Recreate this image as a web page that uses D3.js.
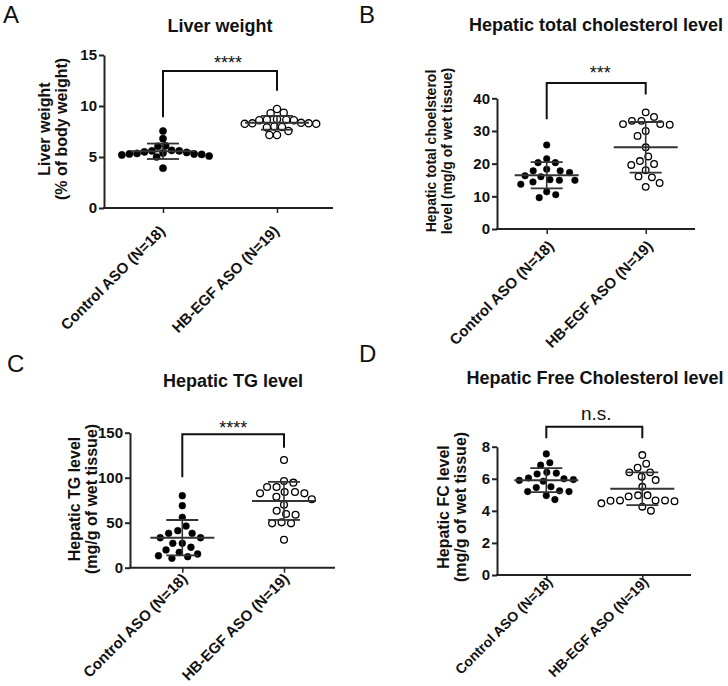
<!DOCTYPE html>
<html><head><meta charset="utf-8">
<script src="https://cdn.jsdelivr.net/npm/d3@7"></script>
<style>body{margin:0;background:#fff} svg{display:block}</style>
</head><body>
<svg id="c" width="728" height="686"></svg>
<script>
// ---- data ----
const groups = ["Control ASO (N=18)", "HB-EGF ASO (N=19)"];

const liverControl = [7.55, 6.8, 6.1, 6.05, 5.65, 5.6, 5.6, 5.5, 5.45, 5.4, 5.35, 5.3, 5.3, 5.25, 5.2, 5.1, 5.0, 3.9];
const liverHBEGF   = [9.7, 9.35, 9.3, 8.7, 8.65, 8.65, 8.6, 8.6, 8.35, 8.3, 8.3, 8.25, 8.25, 8.0, 7.95, 7.9, 7.55, 7.15, 7.15];

const tcControl = [25.7, 21.5, 20.3, 20.3, 18.3, 17.8, 17.8, 17.3, 16.3, 16.0, 15.1, 14.9, 14.9, 14.4, 13.7, 11.4, 10.5, 9.6];
const tcHBEGF   = [35.7, 34.3, 33.1, 32.1, 31.9, 32.1, 33.1, 30.0, 28.5, 25.0, 22.2, 20.8, 19.6, 19.9, 18.0, 16.1, 15.8, 14.1, 12.9];

const tgControl = [80, 68.9, 56, 46.3, 41.1, 38.2, 38.2, 33.3, 33.3, 27.1, 27.1, 22.7, 19.7, 17.1, 15.2, 13.3, 12.2, 10.4];
const tgHBEGF   = [119.7, 96.3, 94.5, 89.7, 89.7, 84.1, 84.1, 82.6, 82.6, 78.9, 76, 70, 63.3, 59.7, 58.9, 50.4, 49.3, 49.3, 31.1];

const fcControl = [7.55, 7.0, 6.85, 6.4, 6.35, 6.3, 6.05, 6.0, 5.95, 5.9, 5.85, 5.5, 5.45, 5.25, 5.2, 5.2, 4.95, 4.7];
const fcHBEGF   = [7.48, 6.94, 6.69, 6.4, 6.4, 6.13, 5.92, 5.5, 4.97, 4.97, 4.9, 4.65, 4.65, 4.65, 4.63, 4.6, 4.47, 4.26, 4.01];

const liverTicks = [0, 5, 10, 15];
const tcTicks = [0, 10, 20, 30, 40];
const tgTicks = [0, 50, 100, 150];
const fcTicks = [0, 2, 4, 6, 8];

const panelLetters = ["A", "B", "C", "D"];
const panelTitles = ["Liver weight", "Hepatic total cholesterol level", "Hepatic TG level", "Hepatic Free Cholesterol level"];
const yTitles = [
  ["Liver weight", "(% of body weight)"],
  ["Hepatic total choelsterol", "level (mg/g of wet tissue)"],
  ["Hepatic TG level", "(mg/g of wet tissue)"],
  ["Hepatic FC level", "(mg/g of wet tissue)"]
];
const sigLabels = ["****", "***", "****", "n.s."];
// bracket heights in data units: [top, left leg end, right leg end]
const brackets = [[13.43, 8.9, 11.5], [44.7, 33.6, 41.2], [148.2, 100.4, 133.3], [9.25, 8.52, 8.52]];

// ---- layout ----
const layout = [
  {values:[liverControl, liverHBEGF], ticks:liverTicks, lx:3, ly:23, tx:220, ty:32,
   ax:104, xEnd:333, yTop:55, yBot:208, cx:[163,277], ylX:[50,67], ylY:129, ylSize:16,
   sigY:69, sigDx:8, sigSize:18, lblDx:3, lblDy:24, lblSize:15, r:3.6, D:7.6},
  {values:[tcControl, tcHBEGF], ticks:tcTicks, lx:359, ly:23, tx:596, ty:31,
   ax:497, xEnd:695, yTop:98.3, yBot:229, cx:[546.7,645.7], ylX:[435.7,452.3], ylY:151, ylSize:14,
   sigY:79, sigDx:4, sigSize:18, lblDx:8, lblDy:18, lblSize:15, r:3.3, D:9.5},
  {values:[tgControl, tgHBEGF], ticks:tgTicks, lx:7, ly:372, tx:233, ty:387,
   ax:130, xEnd:335, yTop:432.7, yBot:567.7, cx:[182.3,284], ylX:[80,96.5], ylY:499, ylSize:16,
   sigY:433.5, sigDx:0, sigSize:18, lblDx:6, lblDy:12, lblSize:15, r:3.4, D:9.5},
  {values:[fcControl, fcHBEGF], ticks:fcTicks, lx:359, ly:362, tx:595, ty:383.5,
   ax:497, xEnd:691, yTop:446.7, yBot:575, cx:[546.3,642.3], ylX:[449,465.7], ylY:507, ylSize:16,
   sigY:419.5, sigDx:2, sigSize:19, lblDx:7, lblDy:8, lblSize:14, r:3.3, D:9.5}
];

const svg = d3.select("#c");
const FONT = "'Liberation Sans', Arial, Helvetica, sans-serif";

function swarm(vals, y, D) {
  const pts = vals.map((v, i) => ({v, i, y: y(v)})).sort((a, b) => a.y - b.y);
  const placed = [];
  let side = 1;
  for (const p of pts) {
    const ivs = [];
    for (const q of placed) {
      const dy = Math.abs(q.y - p.y);
      if (dy < D) { const w = Math.sqrt(D * D - dy * dy); ivs.push([q.x - w, q.x + w]); }
    }
    const cands = [0];
    ivs.forEach(([a, b]) => cands.push(a, b));
    const ok = c => ivs.every(([a, b]) => c <= a + 1e-6 || c >= b - 1e-6);
    const valid = cands.filter(ok);
    const best = d3.min(valid, c => Math.abs(c));
    const ties = valid.filter(c => Math.abs(Math.abs(c) - best) < 0.01);
    let x = ties[0];
    if (ties.length > 1) { x = ties.find(c => Math.sign(c) === side) ?? ties[0]; side = -side; }
    p.x = x;
    placed.push(p);
  }
  return pts;
}

layout.forEach((L, k) => {
  const g = svg.append("g");
  const y = d3.scaleLinear().domain([0, d3.max(L.ticks)]).range([L.yBot, L.yTop]);
  const x = d3.scalePoint().domain(groups).range(L.cx);

  // panel letter
  g.append("text").attr("x", L.lx).attr("y", L.ly).text(panelLetters[k])
    .attr("font-family", FONT).attr("font-size", 24).attr("fill", "#111");
  // title
  g.append("text").attr("x", L.tx).attr("y", L.ty).attr("text-anchor", "middle").text(panelTitles[k])
    .attr("font-family", FONT).attr("font-weight", "bold").attr("font-size", 18).attr("fill", "#111");

  // y axis
  const yAxis = d3.axisLeft(y).tickValues(L.ticks).tickSize(5).tickSizeOuter(0).tickPadding(2).tickFormat(d3.format("d"));
  const ya = g.append("g").attr("transform", `translate(${L.ax},0)`).call(yAxis);
  ya.select(".domain").attr("stroke", "#222").attr("stroke-width", 2);
  ya.selectAll(".tick line").attr("stroke", "#222").attr("stroke-width", 2);
  ya.selectAll(".tick text").attr("font-family", FONT).attr("font-weight", "bold").attr("font-size", 15).attr("fill", "#111");

  // x axis line + ticks
  g.append("line").attr("x1", L.ax - 1).attr("x2", L.xEnd).attr("y1", L.yBot).attr("y2", L.yBot)
    .attr("stroke", "#222").attr("stroke-width", 2);
  const xAxis = d3.axisBottom(x).tickSize(5).tickFormat("");
  const xa = g.append("g").attr("transform", `translate(0,${L.yBot})`).call(xAxis);
  xa.select(".domain").remove();
  xa.selectAll(".tick line").attr("stroke", "#222").attr("stroke-width", 1.5);
  g.selectAll(".xl").data(groups).join("text")
    .attr("transform", d => `translate(${x(d) + L.lblDx},${L.yBot + L.lblDy}) rotate(-45)`)
    .attr("text-anchor", "end").text(d => d)
    .attr("font-family", FONT).attr("font-weight", "bold").attr("font-size", L.lblSize).attr("fill", "#111");

  // y title
  yTitles[k].forEach((t, j) => {
    g.append("text").attr("transform", `translate(${L.ylX[j]},${L.ylY}) rotate(-90)`)
      .attr("text-anchor", "middle").text(t)
      .attr("font-family", FONT).attr("font-weight", "bold").attr("font-size", L.ylSize).attr("fill", "#111");
  });

  // points
  L.values.forEach((vals, gi) => {
    const cx0 = x(groups[gi]);
    const pts = swarm(vals, y, L.D);
    g.append("g").selectAll("circle").data(pts).join("circle")
      .attr("cx", d => cx0 + d.x).attr("cy", d => d.y).attr("r", L.r)
      .attr("fill", gi === 0 ? "#000" : "#fff")
      .attr("stroke", "#000").attr("stroke-width", gi === 0 ? 0.5 : 1.3);
  });

  // mean ± SD
  L.values.forEach((vals, gi) => {
    const cx0 = x(groups[gi]);
    const m = d3.mean(vals), s = d3.deviation(vals);
    const eg = g.append("g").attr("stroke", "#333").attr("fill", "none");
    eg.append("line").attr("x1", cx0 - 32).attr("x2", cx0 + 32).attr("y1", y(m)).attr("y2", y(m)).attr("stroke-width", 2);
    eg.append("line").attr("x1", cx0).attr("x2", cx0).attr("y1", y(m - s)).attr("y2", y(m + s)).attr("stroke-width", 1.6);
    [m - s, m + s].forEach(v => eg.append("line").attr("x1", cx0 - 16).attr("x2", cx0 + 16)
      .attr("y1", y(v)).attr("y2", y(v)).attr("stroke-width", 1.8));
  });

  // significance bracket
  const [bt, bl, br] = brackets[k];
  const x0 = x(groups[0]), x1 = x(groups[1]);
  g.append("path").attr("d", `M${x0},${y(bl)}V${y(bt)}H${x1}V${y(br)}`)
    .attr("fill", "none").attr("stroke", "#111").attr("stroke-width", 2);
  g.append("text").attr("x", (x0 + x1) / 2 + L.sigDx).attr("y", L.sigY).attr("text-anchor", "middle")
    .text(sigLabels[k]).attr("font-family", FONT).attr("font-size", L.sigSize).attr("fill", "#111");
});
</script>
</body></html>
